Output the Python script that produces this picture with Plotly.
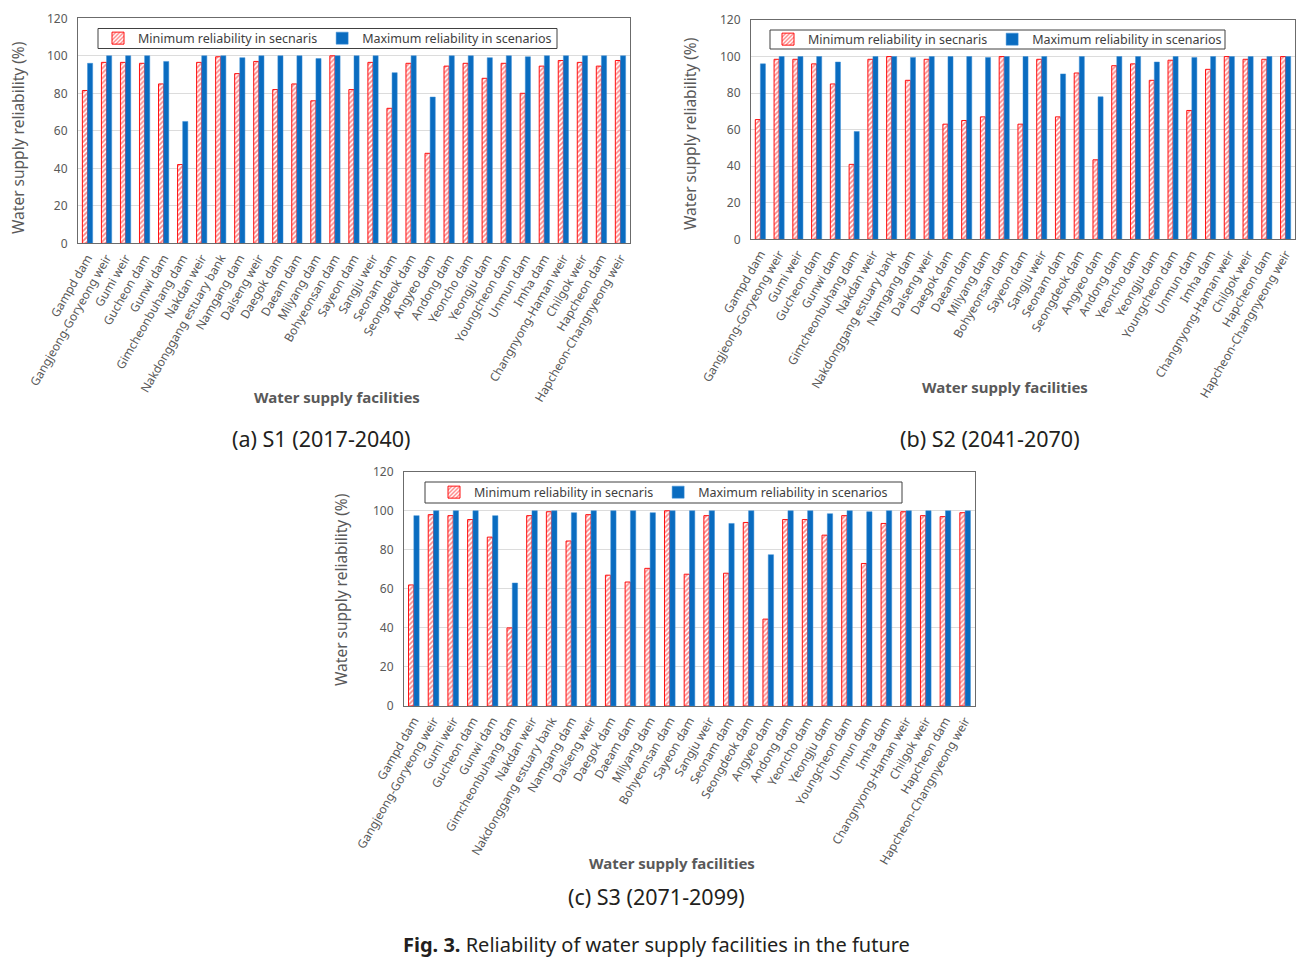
import plotly.graph_objects as go

facilities = [
    "Gampd dam", "Gangjeong-Goryeong weir", "Gumi weir", "Gucheon dam", "Gunwi dam",
    "Gimcheonbuhang dam", "Nakdan weir", "Nakdonggang estuary bank", "Namgang dam",
    "Dalseng weir", "Daegok dam", "Daeam dam", "Milyang dam", "Bohyeonsan dam",
    "Sayeon dam", "Sangju weir", "Seonam dam", "Seongdeok dam", "Angyeo dam",
    "Andong dam", "Yeoncho dam", "Yeongju dam", "Youngcheon dam", "Unmun dam",
    "Imha dam", "Changnyong-Haman weir", "Chilgok weir", "Hapcheon dam",
    "Hapcheon-Changnyeong weir",
]

s1_min = [81.5, 96.5, 96.5, 96, 85, 42, 96.5, 99.5, 90.5, 97, 82, 85, 76, 100,
          82, 96.5, 72, 96, 48, 94.5, 96, 88, 96, 80, 94.5, 97.5, 96.5, 94.5, 97.5]
s1_max = [96, 100, 100, 100, 97, 65, 100, 100, 99, 100, 100, 100, 98.5, 100,
          100, 100, 91, 100, 78, 100, 100, 99, 100, 99.5, 100, 100, 100, 100, 100]

s2_min = [65.5, 98.5, 98.5, 96, 85, 41, 98.5, 100, 87, 98.5, 63, 65, 67, 100,
          63, 98.5, 67, 91, 43.5, 95, 96, 87, 98, 70.5, 93, 100, 98.5, 98.5, 100]
s2_max = [96, 100, 100, 100, 97, 59, 100, 100, 99.5, 100, 100, 100, 99.5, 100,
          100, 100, 90.5, 100, 78, 100, 100, 97, 100, 99.5, 100, 100, 100, 100, 100]

s3_min = [62, 98, 97.5, 95.5, 86.5, 40, 97.5, 99.5, 84.5, 98, 67, 63.5, 70.5, 100,
          67.5, 97.5, 68, 94, 44.5, 95.5, 95.5, 87.5, 97.5, 73, 93.5, 99.5, 97.5, 97, 99]
s3_max = [97.5, 100, 100, 100, 97.5, 63, 100, 100, 99, 100, 100, 100, 99, 100,
          100, 100, 93.5, 100, 77.5, 100, 100, 98.5, 100, 99.5, 100, 100, 100, 100, 100]

min_name = "Minimum reliability in secnaris"
max_name = "Maximum reliability in scenarios"
captions = ["(a) S1 (2017-2040)", "(b) S2 (2041-2070)", "(c) S3 (2071-2099)"]

W, H = 1315, 960
OFF = 8  # page body margin
def px(x): return (x - OFF) / W
def py(y): return 1 - (y - OFF) / H

RED = "#FF1010"
BLUE = "#0A6CC0"
GRAY = "#595959"
FONT = "Noto Sans"

panels = [
    dict(mins=s1_min, maxs=s1_max, box=(78, 630, 18.3, 243.3), leg=(98, 557, 28.5, 48.5),
         ytitle=(18, 138), xtitle=(337, 397), cap=(321, 438)),
    dict(mins=s2_min, maxs=s2_max, box=(751, 1295, 20, 239.3), leg=(770, 1225, 30, 49),
         ytitle=(690, 134), xtitle=(1005, 387), cap=(990, 438)),
    dict(mins=s3_min, maxs=s3_max, box=(404, 975, 471.7, 706), leg=(425, 902, 482, 503),
         ytitle=(341, 590), xtitle=(672, 863), cap=(656, 896)),
]

fig = go.Figure()
layout = dict(
    width=W, height=H, margin=dict(l=0, r=0, t=0, b=0, pad=0, autoexpand=False),
    paper_bgcolor="white", plot_bgcolor="white",
    bargap=0.46, bargroupgap=0.0, barmode="group",
    font=dict(family=FONT, color=GRAY),
)
shapes = []
annotations = []

def ann(text, x, y, size, color, angle=0):
    return dict(text=text, x=px(x), y=py(y), xref="paper", yref="paper",
                xanchor="center", yanchor="middle", showarrow=False, textangle=angle,
                font=dict(size=size, color=color, family=FONT))

for i, p in enumerate(panels):
    sfx = "" if i == 0 else str(i + 1)
    xa, ya, lg = "x" + sfx, "y" + sfx, "legend" + sfx
    fig.add_trace(go.Bar(
        x=facilities, y=p["mins"], name=min_name, xaxis=xa, yaxis=ya, legend=lg,
        marker=dict(color="white", line=dict(color=RED, width=1),
                    pattern=dict(shape="/", fgcolor=RED, bgcolor="white", size=3.5, solidity=0.5)),
    ))
    fig.add_trace(go.Bar(
        x=facilities, y=p["maxs"], name=max_name, xaxis=xa, yaxis=ya, legend=lg,
        marker=dict(color=BLUE, line=dict(color="#3d8fd6", width=0.5)),
    ))
    x0, x1, y0, y1 = p["box"]
    layout["xaxis" + sfx] = dict(
        domain=[px(x0), px(x1)], anchor=ya, tickangle=-60, automargin=False,
        tickfont=dict(size=12, color=GRAY, family=FONT),
        showline=True, mirror=True, linecolor="#6b6b6b", linewidth=1,
        ticks="", showgrid=False, ticklabelstandoff=2,
    )
    layout["yaxis" + sfx] = dict(
        domain=[py(y1), py(y0)], anchor=xa, range=[0, 120], dtick=20, automargin=False,
        tickfont=dict(size=12, color=GRAY, family=FONT),
        showline=True, mirror=True, linecolor="#6b6b6b", linewidth=1,
        gridcolor="#dcdcdc", gridwidth=1, ticks="", zeroline=False, ticklabelstandoff=7,
    )
    lx0, lx1, ly0, ly1 = p["leg"]
    shapes.append(dict(type="rect", xref="paper", yref="paper",
                       x0=px(lx0), x1=px(lx1), y0=py(ly1), y1=py(ly0),
                       line=dict(color="#404040", width=1), fillcolor="white", layer="above"))
    layout[lg] = dict(
        orientation="h", x=px((lx0 + lx1) / 2), y=py((ly0 + ly1) / 2),
        xanchor="center", yanchor="middle", bgcolor="rgba(0,0,0,0)", borderwidth=0,
        font=dict(size=12.5, color="#404040", family=FONT), itemwidth=30,
        tracegroupgap=0,
    )
    tx, ty = p["ytitle"]
    annotations.append(ann("Water supply reliability (%)", tx, ty, 15.5, GRAY, -90))
    tx, ty = p["xtitle"]
    annotations.append(ann("<b>Water supply facilities</b>", tx, ty, 15, GRAY))
    tx, ty = p["cap"]
    annotations.append(ann(captions[i], tx, ty, 21.5, "#231f20"))

annotations.append(ann("<b>Fig. 3.</b> Reliability of water supply facilities in the future",
                       656, 944, 20, "#231f20"))

layout["shapes"] = shapes
layout["annotations"] = annotations
fig.update_layout(**layout)
fig.write_html("out.html")
